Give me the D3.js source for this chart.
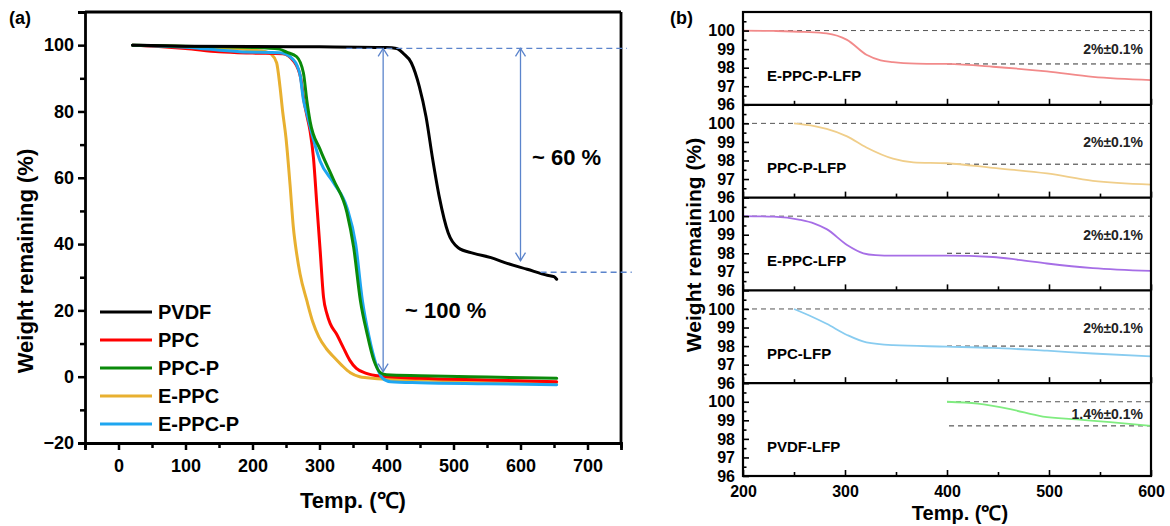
<!DOCTYPE html>
<html><head><meta charset="utf-8">
<script src="https://cdn.jsdelivr.net/npm/d3@7"></script>
<style>
html,body{margin:0;padding:0;background:#fff;}
svg text{font-family:Arial,"Liberation Sans",Helvetica,sans-serif;font-weight:bold;}
</style></head>
<body>
<svg id="chart" width="1170" height="526"></svg>
<script>
// ---------- Panel (a) data ----------
const seriesA = ["PVDF", "PPC", "PPC-P", "E-PPC", "E-PPC-P"];
const colorsA = ["#000000", "#FF0000", "#0A8A0A", "#E8B030", "#1EA6F0"];
const pvdfT = [21,100,200,300,400,415,425,437,449,459,469,479,492,507,530,556,580,610,640,650,654];
const pvdfW = [100,99.7,99.6,99.5,99.3,99,97.5,94.7,87.5,78.4,65.5,54,43.4,38.9,37.2,35.9,34.2,32.4,30.6,30.2,29.4];
const ppcT = [21,60,100,150,200,245,262,272,277,282,286,291,296,301,306,311,316,325,335,345,355,370,390,450,550,654];
const ppcW = [100,99.6,99,98,97.6,97.4,95,90,83,78,74,66,52,38,24,19,16,13,9,5,2.5,1,0.2,-0.5,-1,-1.5];
const ppcpT = [21,100,200,240,251,266,276,281,286,301,321,341,351,361,371,381,391,400,450,550,654];
const ppcpW = [100,99.7,99.3,98.8,97.9,96.5,91.6,83.5,77,68.5,59.4,49.5,39,23,13,5,1.2,0.6,0.3,-0.1,-0.5];
const eppcT = [21,100,150,200,220,228,236,241,245,250,256,261,266,271,281,290,299,310,321,333,346,360,371,400,500,654];
const eppcW = [100,99.6,99.2,98.5,98,97.3,94.7,87.5,80,72,58,45,37,31,23,16.5,12,8.5,6,3.5,1.2,0,-0.3,-0.8,-1.2,-1.8];
const eppcpT = [21,100,181,241,261,271,276,281,291,301,321,341,354,364,374,384,394,406,450,550,654];
const eppcpW = [100,99.4,98,97.7,95.6,91,83.5,79.5,71.5,65,58.5,51,40,23,12,4,-0.4,-1.5,-1.8,-2.1,-2.4];
const xTicksA = [0,100,200,300,400,500,600,700];
const yTicksA = [-20,0,20,40,60,80,100];

// ---------- Panel (b) data ----------
const namesB = ["E-PPC-P-LFP", "PPC-P-LFP", "E-PPC-LFP", "PPC-LFP", "PVDF-LFP"];
const colorsB = ["#F28A8A", "#F0CE8A", "#A66EE6", "#88CCF0", "#80EC80"];
const tB = [
  [200,230,260,282,302,321,335,347,370,400,445,498,543,600],
  [250,270,282,302,321,347,367,400,445,498,543,600],
  [200,230,256,270,282,302,318,330,347,400,445,470,498,543,600],
  [250,265,282,302,321,347,400,445,498,543,600],
  [400,430,462,494,527,560,600]
];
const wB = [
  [100,99.98,99.93,99.85,99.5,98.7,98.4,98.3,98.22,98.2,98.05,97.8,97.5,97.33],
  [100,99.85,99.7,99.3,98.7,98.1,97.9,97.85,97.6,97.3,96.9,96.7],
  [100,99.97,99.8,99.6,99.3,98.45,98.0,97.9,97.87,97.87,97.8,97.65,97.45,97.2,97.05],
  [100,99.65,99.2,98.6,98.2,98.05,97.97,97.9,97.75,97.6,97.45],
  [100,99.9,99.6,99.2,99.05,98.9,98.7]
];
const upperStartB = [200,200,200,200,400];
const lowerLevelB = [98.2,97.8,98.0,98.0,98.7];
const lowerStartB = [400,400,400,400,402];
const noteB = ["2%±0.1%","2%±0.1%","2%±0.1%","2%±0.1%","1.4%±0.1%"];
const noteYB = [99,99,99,99,99.35];
const xTicksB = [200,300,400,500,600];
const yTicksB = [96,97,98,99,100];

const svg = d3.select("#chart");

// ================= Panel (a) =================
const xA = d3.scaleLinear().domain([-50,750]).range([85,621]);
const yA = d3.scaleLinear().domain([-20,110]).range([443,12]);
const gA = svg.append("g");

// x axis
const xAxisA = gA.append("g").attr("transform","translate(0,443)")
  .call(d3.axisBottom(xA).tickValues(xTicksA).tickSize(7).tickPadding(9).tickFormat(d3.format("d")));
gA.append("g").attr("transform","translate(0,443)")
  .call(d3.axisBottom(xA).tickValues(d3.range(-50,751,100)).tickSize(5).tickFormat(""))
  .select(".domain").remove();
const yAxisA = gA.append("g").attr("transform","translate(85,0)")
  .call(d3.axisLeft(yA).tickValues(yTicksA).tickSize(7).tickPadding(4)
    .tickFormat(d => d < 0 ? "\u2212" + Math.abs(d) : d));
gA.append("g").attr("transform","translate(85,0)")
  .call(d3.axisLeft(yA).tickValues(d3.range(-10,111,20)).tickSize(5).tickFormat(""))
  .select(".domain").remove();
gA.selectAll(".domain").attr("stroke","#000").attr("stroke-width",2.8);
gA.selectAll(".tick line").attr("stroke","#000").attr("stroke-width",2.5);
gA.selectAll(".tick text").attr("font-size",18).attr("fill","#000");
// frame top/right
gA.append("line").attr("x1",85).attr("x2",621).attr("y1",12).attr("y2",12).attr("stroke","#000").attr("stroke-width",2.8);
gA.append("line").attr("x1",621).attr("x2",621).attr("y1",12).attr("y2",443).attr("stroke","#000").attr("stroke-width",2.8);

// curves
const lineA = d3.line().x(d=>xA(d[0])).y(d=>yA(d[1])).curve(d3.curveMonotoneX);
const dataA = {
  "PVDF": d3.zip(pvdfT,pvdfW), "PPC": d3.zip(ppcT,ppcW), "PPC-P": d3.zip(ppcpT,ppcpW),
  "E-PPC": d3.zip(eppcT,eppcW), "E-PPC-P": d3.zip(eppcpT,eppcpW)
};
const drawOrder = ["E-PPC","PPC","E-PPC-P","PPC-P","PVDF"];
drawOrder.forEach(name => {
  const c = colorsA[seriesA.indexOf(name)];
  gA.append("path").datum(dataA[name]).attr("d",lineA)
    .attr("fill","none").attr("stroke",c).attr("stroke-width",3).attr("stroke-linejoin","round").attr("stroke-linecap","round");
});

// annotations
const annC = "#5B84CC";
gA.append("line").attr("x1",xA(340)).attr("x2",xA(759)).attr("y1",yA(99)).attr("y2",yA(99))
  .attr("stroke",annC).attr("stroke-width",1.3).attr("stroke-dasharray","6,4");
gA.append("line").attr("x1",xA(630)).attr("x2",xA(766)).attr("y1",yA(31.5)).attr("y2",yA(31.5))
  .attr("stroke",annC).attr("stroke-width",1.3).attr("stroke-dasharray","6,4");
function arrow(t, v1, v2){
  const x = xA(t), y1 = yA(v1), y2 = yA(v2);
  gA.append("line").attr("x1",x).attr("x2",x).attr("y1",y1).attr("y2",y2).attr("stroke",annC).attr("stroke-width",1.3);
  gA.append("path").attr("d",`M${x-5},${y1+8}L${x},${y1}L${x+5},${y1+8}`).attr("fill","none").attr("stroke",annC).attr("stroke-width",1.3);
  gA.append("path").attr("d",`M${x-5},${y2-8}L${x},${y2}L${x+5},${y2-8}`).attr("fill","none").attr("stroke",annC).attr("stroke-width",1.3);
}
arrow(395, 99, 1.5);
arrow(600, 99, 35);
gA.append("text").attr("x",532).attr("y",157).attr("dominant-baseline","central").attr("font-size",22).text("~ 60 %");
gA.append("text").attr("x",405).attr("y",310).attr("dominant-baseline","central").attr("font-size",22).text("~ 100 %");

// legend
seriesA.forEach((s,i) => {
  const y = 312 + i*28;
  gA.append("line").attr("x1",100).attr("x2",152).attr("y1",y).attr("y2",y).attr("stroke",colorsA[i]).attr("stroke-width",3);
  gA.append("text").attr("x",158).attr("y",y).attr("dominant-baseline","central").attr("font-size",20).text(s);
});

// labels
gA.append("text").attr("x",353).attr("y",500).attr("text-anchor","middle").attr("dominant-baseline","central").attr("font-size",22).text("Temp. (℃)");
gA.append("text").attr("transform","translate(25,261) rotate(-90)").attr("text-anchor","middle").attr("dominant-baseline","central").attr("font-size",22).text("Weight remaining (%)");
gA.append("text").attr("x",9).attr("y",18).attr("dominant-baseline","central").attr("font-size",18).text("(a)");

// ================= Panel (b) =================
const xB = d3.scaleLinear().domain([200,600]).range([743,1151]);
const topB = 12, botB = 476, hB = (botB-topB)/5;
const gB = svg.append("g");
const lineB = (ys) => d3.line().x(d=>xB(d[0])).y(d=>ys(d[1])).curve(d3.curveMonotoneX);

namesB.forEach((name,i) => {
  const y0 = topB + i*hB, y1 = y0 + hB;
  const yB = d3.scaleLinear().domain([96,101]).range([y1,y0]);
  const g = gB.append("g");
  // dashed references
  g.append("line").attr("x1",xB(upperStartB[i])).attr("x2",xB(600)).attr("y1",yB(100)).attr("y2",yB(100))
    .attr("stroke","#555").attr("stroke-width",1).attr("stroke-dasharray","5,4");
  g.append("line").attr("x1",xB(lowerStartB[i])).attr("x2",xB(600)).attr("y1",yB(lowerLevelB[i])).attr("y2",yB(lowerLevelB[i]))
    .attr("stroke","#333").attr("stroke-width",1).attr("stroke-dasharray","5,4");
  // curve
  g.append("path").datum(d3.zip(tB[i],wB[i])).attr("d",lineB(yB))
    .attr("fill","none").attr("stroke",colorsB[i]).attr("stroke-width",1.8);
  // y ticks (inward)
  const ya = g.append("g").attr("transform",`translate(${xB(200)},0)`)
    .call(d3.axisLeft(yB).tickValues(yTicksB).tickSize(-6).tickPadding(8).tickFormat(d3.format("d")));
  ya.select(".domain").remove();
  const ym = g.append("g").attr("transform",`translate(${xB(200)},0)`)
    .call(d3.axisLeft(yB).tickValues([96.5,97.5,98.5,99.5,100.5]).tickSize(-3.5).tickFormat(""));
  ym.select(".domain").remove();
  // x ticks (inward)
  const xa = g.append("g").attr("transform",`translate(0,${y1})`)
    .call(d3.axisBottom(xB).tickValues(xTicksB).tickSize(-6).tickPadding(10).tickFormat(i===4 ? d3.format("d") : ""));
  xa.select(".domain").remove();
  const xm = g.append("g").attr("transform",`translate(0,${y1})`)
    .call(d3.axisBottom(xB).tickValues([250,350,450,550]).tickSize(-4).tickFormat(""));
  xm.select(".domain").remove();
  g.selectAll(".tick line").attr("stroke","#000").attr("stroke-width",1.6);
  g.selectAll(".tick text").attr("font-size",16).attr("fill","#000");
  // name and note
  g.append("text").attr("x",767).attr("y",yB(97.6)).attr("dominant-baseline","central").attr("font-size",15).text(name);
  g.append("text").attr("x",1143).attr("y",yB(noteYB[i])).attr("text-anchor","end").attr("dominant-baseline","central").attr("font-size",14).attr("fill","#222").text(noteB[i]);
  // divider
  g.append("line").attr("x1",743).attr("x2",1151).attr("y1",y1).attr("y2",y1).attr("stroke","#000").attr("stroke-width",2.2);
});
// frame
gB.append("rect").attr("x",743).attr("y",topB).attr("width",1151-743).attr("height",botB-topB)
  .attr("fill","none").attr("stroke","#000").attr("stroke-width",2.2);
gB.append("text").attr("x",960).attr("y",513).attr("text-anchor","middle").attr("dominant-baseline","central").attr("font-size",20).text("Temp. (℃)");
gB.append("text").attr("transform","translate(693,245) rotate(-90)").attr("text-anchor","middle").attr("dominant-baseline","central").attr("font-size",21).text("Weight remaining (%)");
gB.append("text").attr("x",670).attr("y",18).attr("dominant-baseline","central").attr("font-size",18).text("(b)");
</script>
</body></html>
